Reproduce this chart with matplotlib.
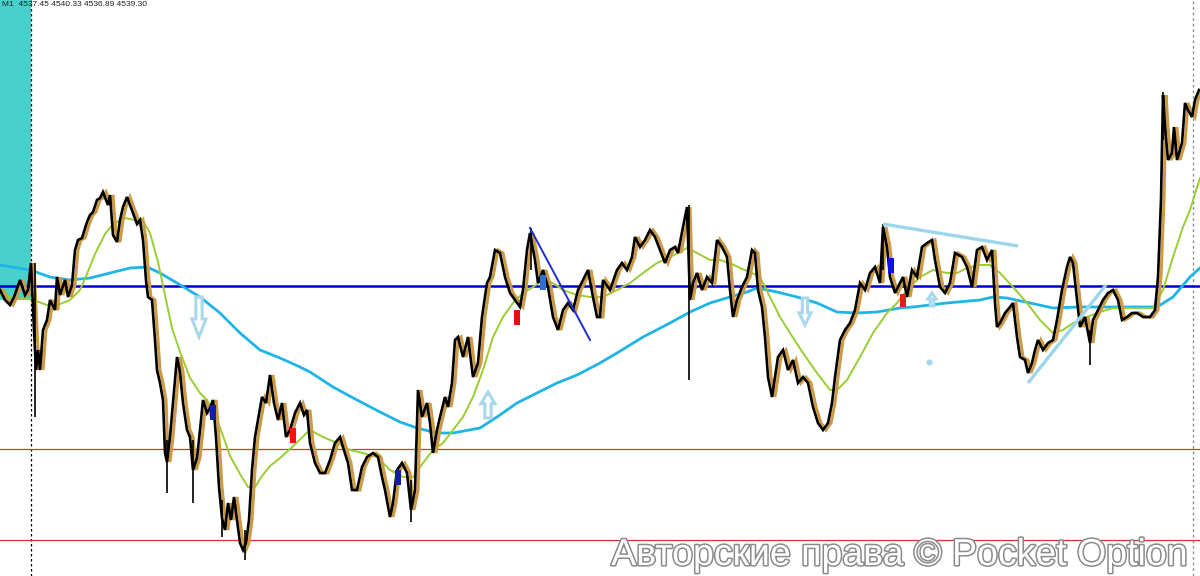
import numpy as np
import matplotlib
matplotlib.use("Agg")
import matplotlib.pyplot as plt
from matplotlib.patches import Polygon, Rectangle
import matplotlib.patheffects as pe

# ---- data (bar index, price) ----
bar_x = [0, 5, 10, 14, 20, 25, 28, 31, 34, 36, 38, 40, 43, 47, 50, 55, 57, 60, 65, 68, 72, 75, 78, 82, 87, 90, 93, 97, 100, 103,
         106, 108, 110, 113, 117, 120, 123, 127, 130, 133, 137, 140, 143, 146, 148, 152, 155, 157, 160, 163, 165, 167, 170, 173, 177,
         180, 183, 187, 190, 193, 197, 200, 203, 207, 210, 213, 216, 219, 222, 225, 228, 231, 234, 237, 240, 243, 246, 249, 252, 255,
         258, 262, 266, 270, 274, 278, 282, 286, 290, 295, 300, 304, 307, 310, 315, 320, 325, 330, 335, 340, 343, 348, 352, 357, 362,
         367, 373, 378, 382, 385, 390, 393, 397, 402, 407, 411, 415, 418, 422, 427, 430, 433, 437, 440, 445, 448, 452, 455, 458, 463,
         468, 473, 478, 482, 487, 490, 495, 500, 505, 510, 515, 520, 523, 527, 530, 535, 538, 543, 548, 553, 558, 563, 568, 573, 578,
         583, 588, 593, 597, 600, 603, 610, 617, 622, 627, 632, 635, 640, 645, 650, 655, 660, 665, 670, 675, 678, 683, 687, 690, 693,
         697, 702, 707, 712, 717, 722, 727, 730, 733, 737, 742, 747, 752, 755, 758, 762, 765, 768, 772, 775, 778, 783, 788, 793, 798,
         803, 808, 813, 818, 823, 828, 832, 835, 840, 845, 850, 855, 860, 865, 870, 875, 880, 883, 887, 890, 895, 900, 903, 907, 912,
         917, 922, 927, 932, 935, 940, 945, 950, 955, 962, 967, 972, 977, 982, 987, 992, 995, 997, 1000, 1005, 1010, 1013, 1017, 1020, 1025,
         1028, 1032, 1035, 1038, 1043, 1048, 1053, 1057, 1062, 1067, 1070, 1073, 1077, 1080, 1085, 1090, 1093, 1098, 1103, 1108, 1113, 1118, 1122, 1127,
         1132, 1137, 1143, 1150, 1155, 1158, 1161, 1163, 1165, 1168, 1172, 1174, 1177, 1182, 1185, 1188, 1192, 1195, 1199]
close = [4531.0, 4530.0, 4529.5, 4530.3, 4532.0, 4530.5, 4531.0, 4533.7, 4527.0, 4523.0, 4525.0, 4523.0, 4527.0, 4528.0, 4530.0,
         4529.0, 4532.3, 4530.5, 4532.0, 4530.3, 4531.5, 4535.0, 4536.0, 4536.2, 4537.8, 4538.5, 4538.8, 4540.0, 4540.2, 4540.8,
         4540.0, 4539.5, 4540.5, 4536.5, 4535.8, 4538.0, 4539.3, 4540.3, 4539.5, 4538.7, 4537.6, 4538.0, 4536.0, 4532.0, 4530.3,
         4530.0, 4526.0, 4523.0, 4521.7, 4520.0, 4514.7, 4513.8, 4516.3, 4519.7, 4524.3, 4522.8, 4519.7, 4517.0, 4516.3, 4513.0,
         4514.2, 4517.0, 4520.0, 4518.7, 4519.2, 4520.0, 4516.3, 4511.3, 4508.2, 4507.0, 4509.7, 4508.0, 4510.3, 4508.0, 4505.7,
         4505.0, 4505.7, 4508.0, 4513.0, 4516.3, 4518.0, 4520.3, 4519.7, 4522.5, 4519.7, 4518.0, 4519.7, 4516.3, 4517.0, 4518.7,
         4519.7, 4518.5, 4519.0, 4515.7, 4513.7, 4512.7, 4512.7, 4514.0, 4515.7, 4516.3, 4515.3, 4513.7, 4511.0, 4511.0, 4513.3,
         4514.3, 4514.7, 4514.3, 4512.3, 4511.0, 4508.3, 4509.7, 4513.0, 4513.7, 4512.7, 4509.0, 4511.0, 4521.0, 4518.3, 4519.7,
         4517.7, 4514.7, 4517.0, 4518.3, 4520.3, 4519.3, 4521.7, 4526.0, 4526.3, 4524.3, 4526.3, 4522.3, 4523.7, 4528.3, 4531.7,
         4532.3, 4535.0, 4534.7, 4532.3, 4530.7, 4530.0, 4529.3, 4531.0, 4535.0, 4536.7, 4534.0, 4531.7, 4533.0, 4531.3, 4528.3,
         4527.0, 4529.0, 4529.7, 4529.0, 4531.0, 4532.0, 4533.0, 4530.3, 4528.3, 4528.3, 4532.0, 4531.0, 4533.0, 4533.7, 4533.0,
         4534.3, 4536.3, 4535.3, 4536.0, 4537.0, 4536.3, 4535.0, 4533.7, 4535.0, 4535.3, 4534.7, 4537.3, 4539.3, 4530.0, 4531.7,
         4532.7, 4531.0, 4532.3, 4531.7, 4536.0, 4535.3, 4534.3, 4531.0, 4528.3, 4530.0, 4531.3, 4532.3, 4535.0, 4534.7, 4531.0,
         4529.3, 4526.3, 4522.3, 4520.3, 4522.3, 4524.3, 4525.0, 4523.0, 4524.0, 4521.7, 4522.3, 4521.7, 4519.3, 4517.7, 4517.0,
         4517.7, 4519.7, 4522.3, 4526.0, 4527.0, 4527.7, 4529.0, 4531.7, 4531.0, 4532.7, 4533.3, 4531.7, 4537.3, 4535.3, 4532.3,
         4530.7, 4531.7, 4532.3, 4530.3, 4533.0, 4532.3, 4535.3, 4535.7, 4536.0, 4534.0, 4531.3, 4530.7, 4531.7, 4534.7, 4534.3,
         4533.3, 4531.3, 4535.0, 4535.3, 4534.0, 4535.0, 4529.7, 4527.3, 4527.7, 4528.7, 4529.3, 4529.7, 4526.3, 4524.3, 4524.0,
         4522.7, 4523.7, 4525.0, 4526.0, 4525.0, 4525.7, 4526.0, 4528.0, 4531.0, 4533.3, 4534.3, 4533.7, 4530.0, 4527.3, 4528.3,
         4525.7, 4528.0, 4529.0, 4530.0, 4530.7, 4531.0, 4530.0, 4528.0, 4528.3, 4528.7, 4528.7, 4528.3, 4528.3, 4529.0, 4532.3,
         4540.0, 4550.5, 4547.3, 4544.0, 4544.7, 4547.3, 4544.0, 4545.7, 4549.7, 4549.0, 4548.3, 4550.0, 4551.0]

# notable wicks
wick_x = [35, 167, 193, 222, 245, 411, 689, 531, 883, 1163, 1090]
wick_low = [4518.3, 4510.7, 4509.7, 4506.3, 4504.0, 4507.8, 4522.0, 4533.0, 4533.0, 4546.0, 4523.5]
wick_high = [4533.7, 4516.0, 4516.0, 4510.0, 4507.0, 4512.0, 4539.5, 4537.2, 4537.6, 4550.8, 4527.0]

# moving averages
ma_fast_x = [0, 33, 47, 55, 60, 70, 80, 87, 95, 105, 113, 125, 135, 142, 150, 158, 165, 172, 180, 190, 200, 207, 215, 222, 230,
             240, 248, 255, 262, 270, 280, 290, 310, 323, 337, 350, 363, 377, 390, 403, 413, 423, 433, 443, 453, 463, 473, 483, 493,
             503, 513, 523, 533, 543, 553, 563, 577, 590, 603, 617, 630, 643, 657, 670, 680, 687, 697, 710, 720, 730, 740, 750, 760,
             770, 780, 790, 803, 817, 830, 837, 847, 860, 873, 887, 897, 907, 920, 933, 947, 957, 967, 980, 990, 1000, 1013, 1027,
             1040, 1053, 1063, 1073, 1087, 1100, 1113, 1127, 1140, 1153, 1163, 1173, 1183, 1190, 1200]
ma_fast = [4530.5, 4530.0, 4529.5, 4529.2, 4529.6, 4530.0, 4531.0, 4532.6, 4534.6, 4536.6, 4537.6, 4538.2, 4538.0, 4538.1, 4536.7,
           4533.8, 4530.5, 4527.2, 4524.8, 4522.2, 4520.7, 4520.0, 4518.6, 4516.7, 4514.4, 4512.6, 4511.3, 4511.3, 4512.4, 4513.4,
           4514.2, 4515.1, 4517.0, 4516.3, 4515.7, 4515.0, 4514.7, 4514.3, 4513.0, 4512.3, 4512.3, 4513.7, 4515.0, 4515.7, 4517.0,
           4518.3, 4520.3, 4523.0, 4526.3, 4528.3, 4529.7, 4530.7, 4531.3, 4532.0, 4531.7, 4531.0, 4530.5, 4530.3, 4530.3, 4531.0,
           4531.7, 4532.7, 4533.7, 4534.3, 4534.8, 4535.2, 4534.7, 4534.0, 4534.0, 4533.7, 4533.2, 4532.8, 4532.3, 4530.3, 4528.3,
           4526.7, 4524.7, 4522.7, 4521.0, 4521.0, 4522.0, 4524.3, 4526.7, 4528.7, 4529.7, 4531.0, 4532.3, 4533.0, 4532.7, 4532.7,
           4533.2, 4533.5, 4533.5, 4532.7, 4531.3, 4529.7, 4528.0, 4526.7, 4527.0, 4527.7, 4528.3, 4528.8, 4529.2, 4529.2, 4529.2,
           4529.2, 4531.0, 4534.3, 4537.3, 4539.0, 4542.2]

ma_slow_x = [0, 30, 50, 70, 90, 110, 130, 147, 160, 177, 200, 220, 240, 260, 280, 300, 310, 333, 357, 380, 400, 417, 437, 453, 480,
             497, 517, 537, 557, 577, 600, 617, 643, 670, 690, 710, 730, 747, 757, 777, 797, 817, 837, 857, 877, 900, 913, 947, 980,
             993, 1007, 1030, 1053, 1080, 1107, 1133, 1157, 1173, 1190, 1200]
ma_slow = [4533.5, 4533.0, 4532.3, 4532.0, 4532.2, 4532.7, 4533.2, 4533.3, 4532.7, 4531.7, 4530.3, 4528.7, 4526.7, 4525.0, 4524.2,
           4523.3, 4522.8, 4521.3, 4520.0, 4518.8, 4517.8, 4517.2, 4516.7, 4516.7, 4517.2, 4518.3, 4519.7, 4520.7, 4521.7, 4522.5,
           4523.7, 4524.7, 4526.3, 4527.7, 4528.8, 4529.7, 4530.3, 4530.8, 4531.2, 4530.8, 4530.3, 4529.7, 4528.8, 4528.7, 4528.8,
           4529.2, 4529.3, 4529.7, 4530.0, 4530.3, 4530.2, 4529.7, 4529.2, 4529.3, 4529.3, 4529.3, 4529.3, 4530.3, 4532.3, 4533.2]

# horizontal levels
blue_level = 4531.4
red_levels = [4515.1, 4506.0]

# trend lines: (x0, p0, x1, p1)
light_trend = [(883, 4537.6, 1018, 4535.4), (1028, 4521.7, 1106, 4531.5)]
dark_trend = [(530, 4537.2, 590, 4526.0)]

# signal arrows: x, tail price, head price
arrow_x = [199, 488, 805, 932]
arrow_tail = [4530.3, 4518.2, 4530.2, 4529.4]
arrow_head = [4526.3, 4520.8, 4527.5, 4530.7]
arrow_half = [7, 7, 6, 4]

# highlighted candles: x, low, high, colour
hl_x = [891, 293, 517, 903, 213, 398, 543]
hl_lo = [4532.7, 4515.7, 4527.5, 4529.3, 4518.0, 4511.5, 4531.0]
hl_hi = [4534.2, 4517.2, 4529.0, 4530.6, 4519.5, 4513.0, 4532.5]
hl_col = ["#1010E0", "#FF1010", "#E01010", "#E02020", "#1020A0", "#1020A0", "#3070D0"]

header = "M1  4537.45 4540.33 4536.89 4539.30"
watermark = "Авторские права © Pocket Option"

# ---- drawing ----
fig = plt.figure(figsize=(12, 5.76), dpi=100)
ax = fig.add_axes([0, 0, 1, 1])
ax.set_xlim(0, 1200)
ax.set_ylim(4502.4, 4560.0)
ax.axis("off")

# teal zone at left
ax.add_patch(Rectangle((0, 4530.0), 31, 30.0, facecolor="#48D1CC", edgecolor="none", zorder=0))

# horizontal levels
ax.axhline(blue_level, color="#0000C8", lw=1.8, zorder=3)
for lv in red_levels:
    ax.axhline(lv, color="#E03030", lw=0.9, zorder=3)

# vertical separators
ax.axvline(31, color="black", lw=0.9, ls=(0, (2, 2)), zorder=1)
ax.axvline(1193, color="#909090", lw=1.0, ls=(0, (2, 2)), zorder=1)

# MAs
ax.plot(ma_slow_x, ma_slow, color="#1EB4E8", lw=2.0, zorder=4)
ax.plot(ma_fast_x, ma_fast, color="#9ACD32", lw=1.4, zorder=4)

# price (orange lagging line + black path)
bx = np.array(bar_x, dtype=float)
ax.plot(bx + 3, close, color="#CC9A45", lw=2.2, zorder=5, solid_joinstyle="miter")
ax.vlines(wick_x, wick_low, wick_high, color="black", lw=1.2, zorder=6)
ax.plot(bx, close, color="black", lw=1.9, zorder=6, solid_joinstyle="miter")

for x, lo, hi, c in zip(hl_x, hl_lo, hl_hi, hl_col):
    ax.add_patch(Rectangle((x - 3, lo), 6, hi - lo, facecolor=c, edgecolor="none", zorder=7))

# trend lines
for x0, p0, x1, p1 in light_trend:
    ax.plot([x0, x1], [p0, p1], color="#9CD6EA", lw=2.4, zorder=7, solid_capstyle="butt")
for x0, p0, x1, p1 in dark_trend:
    ax.plot([x0, x1], [p0, p1], color="#1E2FD0", lw=1.4, zorder=7)

# hollow arrows
for x, t, h, w in zip(arrow_x, arrow_tail, arrow_head, arrow_half):
    d = 1 if h > t else -1
    L = abs(h - t)
    head_len = L * 0.45
    neck = h - d * head_len
    sw = w * 0.45
    pts = [(x - sw, t), (x - sw, neck), (x - w, neck), (x, h), (x + w, neck), (x + sw, neck), (x + sw, t)]
    ax.add_patch(Polygon(pts, closed=True, facecolor="white", edgecolor="#A8D8EA", lw=2.2, zorder=8))

ax.plot([929], [4523.8], marker="o", ms=3.5, color="#A8D8EA", zorder=8)

# header text
ax.text(0.002, 0.998, header, transform=ax.transAxes, ha="left", va="top", fontsize=6,
        family="Liberation Sans", color="#202020", zorder=10)

# watermark
ax.text(0.99, 0.019, watermark, transform=ax.transAxes, ha="right", va="baseline", fontsize=27,
        family="Liberation Sans", color="white", zorder=11,
        path_effects=[pe.withStroke(linewidth=2.2, foreground="#8a8a8a")])

fig.savefig("out.png", dpi=100)
